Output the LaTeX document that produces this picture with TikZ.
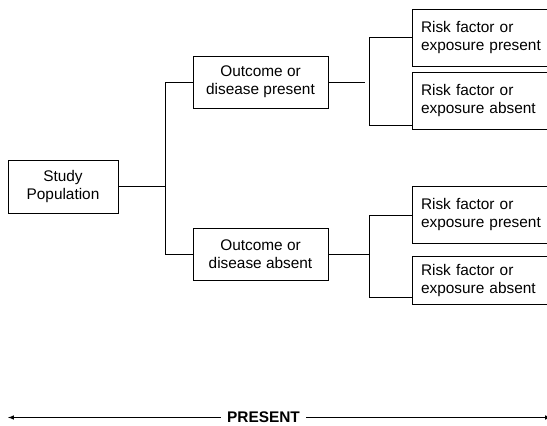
\documentclass[tikz,border=0pt]{standalone}
\usepackage{fontspec}
\setmainfont{Liberation Sans}
\usetikzlibrary{positioning}

\begin{document}
\begin{tikzpicture}[x=1pt, y=-1pt, line width=1pt, font=\fontsize{15.4}{18}\selectfont,
  group/.style = {draw, align=center, minimum width=135pt, minimum height=52pt, inner sep=2pt},
  risk/.style = {draw, align=left, text width=140pt, inner xsep=9pt, minimum height=57pt}]
\useasboundingbox (0,0) rectangle (547,426);
\clip (0,0) rectangle (547,426);
\node[group, minimum width=110pt, minimum height=53pt] (study) at (63,186.5) {Study\\Population};
\node[group] (outP) [right=74pt of study, yshift=104.5pt] {Outcome or\\disease present};
\node[group] (outA) [right=74pt of study, yshift=-68pt] {Outcome or\\disease absent};
\node[risk] (r1) [right=83pt of outP, yshift=44.5pt] {Risk factor or\\exposure present};
\node[risk] (r2) [below=5pt of r1] {Risk factor or\\exposure absent};
\node[risk] (r3) [right=83pt of outA, yshift=39.5pt] {Risk factor or\\exposure present};
\node[risk, minimum height=48pt] (r4) [below=12pt of r3] {Risk factor or\\exposure absent};
\draw (study.east) -- ++(47,0) coordinate (split);
\draw (outP.west) -| (split) |- (outA.west);
\draw (outP.east) -- ++(36,0);
\draw (r1.west) -- ++(-42,0) |- ([yshift=4pt]r2.south west);
\draw (outA.east) -- ++(41,0);
\draw (r3.west) -- ++(-42,0) |- ([yshift=8pt]r4.south west);
% time axis
\coordinate (pastend) at (8,417.5);
\coordinate (nowend) at (551,417.5);
\node[font=\bfseries\fontsize{15.4}{18}\selectfont, inner xsep=6pt] (era) at (263.5,417.5) {PRESENT};
\draw[-latex] (era) -- (pastend);
\draw[-latex] (era) -- (nowend);
\end{tikzpicture}
\end{document}
